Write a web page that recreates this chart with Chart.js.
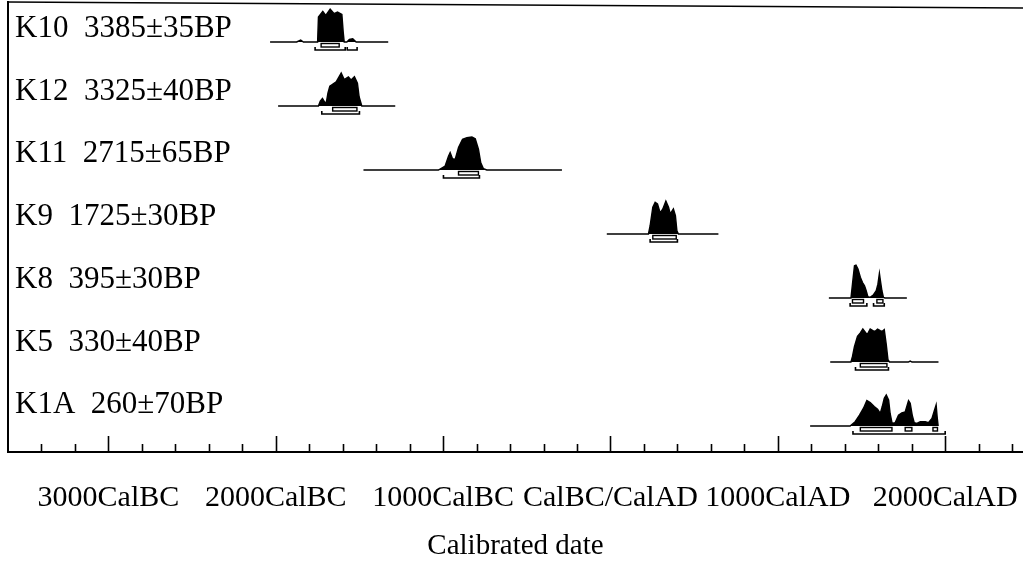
<!DOCTYPE html>
<html>
<head>
<meta charset="utf-8">
<title>Calibrated radiocarbon dates</title>
<script src="https://cdn.jsdelivr.net/npm/chart.js@4/dist/chart.umd.min.js"></script>
<style>
  html, body { margin: 0; padding: 0; background: #fff; }
  #wrap { width: 1023px; height: 564px; }
</style>
</head>
<body>
<div id="wrap"><canvas id="chart" width="1023" height="564"></canvas></div>
<script>
// Samples, top row first
const SAMPLE_IDS = ['K10', 'K12', 'K11', 'K9', 'K8', 'K5', 'K1A'];
const BP_AGES = ['3385±35BP', '3325±40BP', '2715±65BP', '1725±30BP', '395±30BP', '330±40BP', '260±70BP'];

// Extent of each calibration curve (calendar years, negative = BC)
const SPAN_START = [-2034, -1986, -1476, -22, 1305, 1313, 1193];
const SPAN_END = [-1328, -1286, -290, 645, 1771, 1960, 1960];

// Relative probability (1 = highest point) of each calibrated date
const K10_YEARS = [-1875, -1851, -1835, -1750, -1745, -1719, -1701, -1675, -1651, -1631, -1605, -1597, -1591, -1575, -1560, -1540, -1520];
const K10_PROB  = [0, 0.06, 0, 0, 0.76, 0.93, 0.81, 1.0, 0.86, 0.91, 0.84, 0.3, 0, 0, 0.08, 0.1, 0];

const K12_YEARS = [-1745, -1734, -1721, -1708, -1698, -1688, -1677, -1665, -1639, -1609, -1591, -1566, -1550, -1530, -1512, -1502, -1486];
const K12_PROB  = [0, 0.15, 0.23, 0.12, 0.1, 0.4, 0.6, 0.64, 0.73, 1.0, 0.8, 0.88, 0.79, 0.89, 0.69, 0.28, 0];

const K11_YEARS = [-1028, -988, -968, -958, -944, -928, -908, -884, -858, -828, -808, -789, -775, -759, -739];
const K11_PROB  = [0, 0.12, 0.42, 0.53, 0.34, 0.32, 0.68, 0.93, 0.98, 1.0, 0.95, 0.63, 0.22, 0.04, 0];

const K9_YEARS = [227, 237, 253, 267, 281, 297, 313, 331, 347, 357, 376, 388, 397, 406];
const K9_PROB  = [0, 0.25, 0.81, 0.96, 0.91, 0.64, 0.76, 1.0, 0.81, 0.61, 0.76, 0.56, 0.1, 0];

const K8_YEARS = [1437, 1446, 1458, 1467, 1479, 1493, 1506, 1518, 1528, 1538, 1552, 1572, 1588, 1598, 1607, 1613, 1622, 1631, 1640];
const K8_PROB  = [0, 0.42, 0.98, 1.0, 0.88, 0.63, 0.47, 0.37, 0.22, 0.04, 0.02, 0.1, 0.22, 0.42, 0.75, 0.53, 0.22, 0.02, 0];

const K5_YEARS = [1437, 1446, 1458, 1476, 1493, 1508, 1526, 1536, 1552, 1568, 1582, 1596, 1612, 1624, 1636, 1648, 1658, 1667, 1780, 1791, 1802];
const K5_PROB  = [0, 0.17, 0.47, 0.78, 0.88, 1.0, 0.88, 0.85, 1.0, 0.95, 0.93, 1.0, 0.95, 0.93, 0.98, 0.53, 0.07, 0, 0, 0.03, 0];

const K1A_YEARS = [1432, 1462, 1488, 1512, 1532, 1552, 1576, 1596, 1612, 1624, 1636, 1648, 1662, 1671, 1683, 1701, 1721, 1741, 1761, 1781, 1791, 1803, 1815, 1831, 1851, 1881, 1900, 1921, 1936, 1946, 1952, 1958];
const K1A_PROB  = [0, 0.13, 0.33, 0.54, 0.77, 0.71, 0.59, 0.51, 0.38, 0.59, 0.84, 0.94, 0.79, 0.38, 0.08, 0.1, 0.33, 0.4, 0.43, 0.77, 0.69, 0.33, 0.1, 0.08, 0.13, 0.13, 0.1, 0.23, 0.48, 0.64, 0.28, 0];

const YEARS = [K10_YEARS, K12_YEARS, K11_YEARS, K9_YEARS, K8_YEARS, K5_YEARS, K1A_YEARS];
const PROBS = [K10_PROB, K12_PROB, K11_PROB, K9_PROB, K8_PROB, K5_PROB, K1A_PROB];

// 68.2% (1 sigma) and 95.4% (2 sigma) ranges, [from, to] in calendar years
const SIGMA1 = [
  [[-1729, -1621]],
  [[-1660, -1515]],
  [[-908, -789]],
  [[253, 393]],
  [[1446, 1512], [1592, 1628]],
  [[1493, 1652]],
  [[1493, 1682], [1761, 1801], [1927, 1954]]
];
const SIGMA2 = [
  [[-1765, -1585], [-1573, -1514]],
  [[-1725, -1500]],
  [[-998, -783]],
  [[237, 400]],
  [[1432, 1532], [1572, 1636]],
  [[1464, 1661]],
  [[1449, 2000]]
];

// Axis labels
const TICK_YEARS = [-3000, -2000, -1000, 0, 1000, 2000];
const TICK_LABELS = ['3000CalBC', '2000CalBC', '1000CalBC', 'CalBC/CalAD', '1000CalAD', '2000CalAD'];
const AXIS_TITLE = 'Calibrated date';
const MINOR_STEP = 200;
const MAJOR_STEP = 1000;

const ROWS = SAMPLE_IDS.length;
const PEAK = 0.515;                       // height of a full-probability peak, in rows
const rowValue = i => ROWS - 1 - i;       // top sample sits highest

const datasets = SAMPLE_IDS.map((id, i) => {
  const base = rowValue(i);
  const pts = [{ x: SPAN_START[i], y: base }];
  YEARS[i].forEach((yr, j) => pts.push({ x: yr, y: base + PROBS[i][j] * PEAK }));
  pts.push({ x: SPAN_END[i], y: base });
  return {
    label: id,
    data: pts,
    borderColor: '#000',
    backgroundColor: '#000',
    borderWidth: 1.4,
    pointRadius: 0,
    tension: 0,
    fill: { value: base }
  };
});

const SERIF = '"Liberation Serif", "Times New Roman", serif';

// Frame, inward tick marks, axis labels, range brackets and sample labels
const decorations = {
  id: 'decorations',
  afterDatasetsDraw(chart) {
    const { ctx, chartArea: a, scales: { x, y } } = chart;
    ctx.save();
    ctx.strokeStyle = '#000';
    ctx.fillStyle = '#000';

    // range brackets under each curve
    SAMPLE_IDS.forEach((id, i) => {
      const by = y.getPixelForValue(rowValue(i));
      ctx.lineWidth = 1.4;
      SIGMA1[i].forEach(([f, t]) => {
        const x0 = x.getPixelForValue(f), x1 = x.getPixelForValue(t);
        ctx.strokeRect(x0, by + 1.5, x1 - x0, 3.5);
      });
      ctx.lineWidth = 1.6;
      SIGMA2[i].forEach(([f, t]) => {
        const x0 = x.getPixelForValue(f), x1 = x.getPixelForValue(t);
        ctx.beginPath();
        ctx.moveTo(x0, by + 5);
        ctx.lineTo(x0, by + 8);
        ctx.lineTo(x1, by + 8);
        ctx.lineTo(x1, by + 5);
        ctx.stroke();
      });
    });

    // frame
    ctx.lineWidth = 2;
    ctx.beginPath();
    ctx.moveTo(a.left, a.top + 1);
    ctx.lineTo(a.left, a.bottom);
    ctx.lineTo(a.right, a.bottom);
    ctx.stroke();
    ctx.lineWidth = 1.6;
    ctx.beginPath();
    ctx.moveTo(a.left, a.top + 2);
    ctx.lineTo(a.right, a.top + 8);
    ctx.stroke();

    // tick marks point up into the plot
    ctx.lineWidth = 1.6;
    for (let v = Math.ceil(x.min / MINOR_STEP) * MINOR_STEP; v < x.max; v += MINOR_STEP) {
      if (v <= x.min) continue;
      const px = Math.round(x.getPixelForValue(v)) + 0.5;
      const len = v % MAJOR_STEP === 0 ? 16 : 8;
      ctx.beginPath();
      ctx.moveTo(px, a.bottom);
      ctx.lineTo(px, a.bottom - len);
      ctx.stroke();
    }

    // tick labels and axis title
    ctx.textAlign = 'center';
    ctx.textBaseline = 'alphabetic';
    ctx.font = '30px ' + SERIF;
    TICK_YEARS.forEach((v, k) => {
      ctx.fillText(TICK_LABELS[k], x.getPixelForValue(v), a.bottom + 54);
    });
    ctx.font = '29px ' + SERIF;
    ctx.fillText(AXIS_TITLE, (a.left + a.right) / 2, a.bottom + 102);

    // sample names and radiocarbon ages
    ctx.font = '31px ' + SERIF;
    ctx.textAlign = 'left';
    SAMPLE_IDS.forEach((id, i) => {
      const ty = y.getPixelForValue(rowValue(i)) - 5 - 1.3 * i;
      ctx.fillText(id, a.left + 7, ty);
      const w = ctx.measureText(id + '  ').width;
      ctx.fillText(BP_AGES[i], a.left + 7 + w, ty);
    });
    ctx.restore();
  }
};

new Chart(document.getElementById('chart'), {
  type: 'line',
  data: { datasets },
  options: {
    responsive: false,
    animation: false,
    devicePixelRatio: 1,
    layout: { padding: { left: 8, right: 0, top: 0, bottom: 112 } },
    plugins: { legend: { display: false }, tooltip: { enabled: false } },
    scales: {
      x: {
        type: 'linear',
        display: false,
        min: -3600,
        max: 2465
      },
      y: {
        display: false,
        min: -0.40625,
        max: 6.65625
      }
    }
  },
  plugins: [decorations]
});
</script>
</body>
</html>
